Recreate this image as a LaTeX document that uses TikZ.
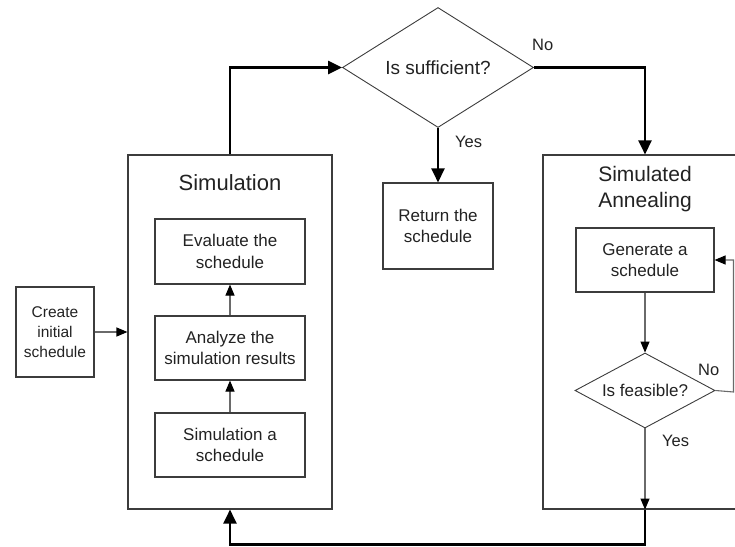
\documentclass[tikz,border=0pt]{standalone}
\usepackage{fontspec}
\setmainfont{Liberation Sans}
\usetikzlibrary{shapes.geometric,arrows.meta}
\definecolor{txt}{HTML}{222222}
\definecolor{edgec}{HTML}{3C3C3C}
\definecolor{thinc}{HTML}{6A6A6A}
\begin{document}
\begin{tikzpicture}[x=1pt,y=-1pt,
  box/.style={draw=edgec,line width=1.1pt,rectangle,inner sep=0pt,align=center,text=txt},
  inner/.style={box,minimum width=150pt,minimum height=64pt,font=\fontsize{17}{21.5}\selectfont},
  big/.style={box,minimum width=204pt,minimum height=354pt},
  dia/.style={diamond,draw=edgec,line width=0.9pt,inner sep=0pt,align=center,text=txt},
  lbl/.style={text=txt,inner sep=0pt,font=\fontsize{16.5}{20}\selectfont},
  thickarrow/.style={draw=black,line width=2.4pt,-{Triangle[length=14pt,width=13pt]}},
  thickline/.style={draw=black,line width=2.4pt},
  thinarrow/.style={draw=thinc,line width=1.1pt,-{Triangle[length=11pt,width=9pt,color=black,fill=black]}},
  thinline/.style={draw=thinc,line width=1.1pt}]
\useasboundingbox (0,0) rectangle (735,546);
\clip (0,0) rectangle (735,546);

% containers
\node[big] (sim) at (230,332) {};
\node[big] (sa) at (645,332) {};
\node[text=txt,inner sep=0pt,anchor=base,font=\fontsize{22}{26}\selectfont] (simtitle) at (230,190) {Simulation};
\node[text=txt,inner sep=0pt,anchor=north,align=center,font=\fontsize{21}{26}\selectfont] (satitle) at (645,166) {Simulated\\Annealing};

% boxes
\node[box,minimum width=78pt,minimum height=90pt,font=\fontsize{15.5}{20}\selectfont] (create) at (55,332) {Create\\initial\\schedule};
\node[inner,minimum height=65pt] (eval) at (230,251.5) {Evaluate the\\schedule};
\node[inner] (anal) at (230,348) {Analyze the\\simulation results};
\node[inner] (simsch) at (230,445) {Simulation a\\schedule};
\node[box,minimum width=110pt,minimum height=86pt,font=\fontsize{17}{21.5}\selectfont] (ret) at (438,226) {Return the\\schedule};
\node[box,minimum width=138pt,minimum height=64pt,font=\fontsize{17}{21.5}\selectfont] (gen) at (645,260) {Generate a\\schedule};

% decisions
\node[dia,aspect=1.6,minimum width=191pt,minimum height=120pt,font=\fontsize{19}{23}\selectfont] (suff) at (438,67.5) {Is sufficient?};
\node[dia,aspect=1.87,minimum width=140pt,minimum height=75pt,font=\fontsize{17}{21}\selectfont] (feas) at (645,390.5) {Is feasible?};

% labels
\node[lbl,anchor=base west] (no1) at (532,50) {No};
\node[lbl,anchor=base west] (yes1) at (455,147) {Yes};
\node[lbl,anchor=base west] (no2) at (698,375) {No};
\node[lbl,anchor=base west] (yes2) at (662,446) {Yes};

% helper coordinates
\coordinate (loop) at (733.5,392);
\coordinate (bot) at (645,544.5);

% connectors
\draw[thinarrow] (create.east) -- (sim.west);
\draw[thinarrow] (simsch.north) -- (anal.south);
\draw[thinarrow] (anal.north) -- (eval.south);
\draw[thickarrow] (sim.north) |- (suff.west);
\draw[thickarrow] (suff.east) -| (sa.north);
\draw[thickarrow] (suff.south) -- (ret.north);
\draw[thinarrow] (gen.south) -- (feas.north);
\draw[thinarrow] (feas.east) -- (loop) |- (gen.east);
\draw[thinarrow] (feas.south) -- (sa.south);
\draw[thickarrow] (sa.south) -- (bot) -| (sim.south);
\end{tikzpicture}
\end{document}
